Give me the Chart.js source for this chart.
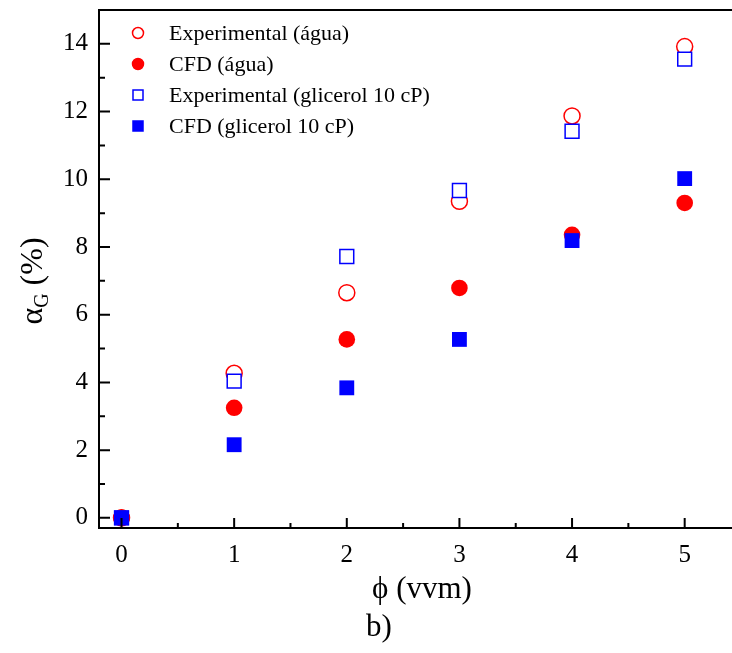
<!DOCTYPE html>
<html>
<head>
<meta charset="utf-8">
<script src="https://cdn.jsdelivr.net/npm/chart.js@4.4.0/dist/chart.umd.min.js"></script>
<style>
  html, body { margin: 0; padding: 0; background: #fff; overflow: hidden; }
  canvas { display: block; }
</style>
</head>
<body>
<canvas id="grafico" width="760" height="653"></canvas>
<script>
// =============================
// DADOS
// =============================
const vazoes = [0, 1, 2, 3, 4, 5];
const expAgua = [0, 4.27, 6.65, 9.35, 11.87, 13.92];
const cfdAgua = [0, 3.25, 5.27, 6.79, 8.36, 9.3];
const expGlicerol = [0, 4.04, 7.72, 9.67, 11.42, 13.55];
const cfdGlicerol = [0, 2.16, 3.84, 5.27, 8.19, 10.02];

const ticksX = [0, 1, 2, 3, 4, 5];
const ticksY = [0, 2, 4, 6, 8, 10, 12, 14];
const minorX = [0.5, 1.5, 2.5, 3.5, 4.5];
const minorY = [1, 3, 5, 7, 9, 11, 13];

const nomes = ["Experimental (água)", "CFD (água)", "Experimental (glicerol 10 cP)", "CFD (glicerol 10 cP)"];

const FONTE = "'Liberation Serif', 'Times New Roman', serif";
const VERMELHO = "#ff0000";
const AZUL = "#0000ff";

function pontos(ys) {
    return vazoes.map((x, i) => ({ x: x, y: ys[i] }));
}

// =============================
// PLUGIN: eixos, ticks para dentro, titulos e legenda
// =============================
const pluginEixos = {
    id: "eixos",
    afterDraw(chart) {
        const ctx = chart.ctx;
        const area = chart.chartArea;
        const sx = chart.scales.x;
        const sy = chart.scales.y;

        ctx.save();
        ctx.strokeStyle = "#000";
        ctx.lineWidth = 2;
        ctx.lineCap = "butt";

        // linhas do quadro
        ctx.beginPath();
        ctx.moveTo(area.left, area.top);
        ctx.lineTo(area.left, area.bottom);
        ctx.moveTo(area.left - 1, area.bottom);
        ctx.lineTo(area.right, area.bottom);
        ctx.moveTo(area.left - 1, area.top);
        ctx.lineTo(area.right, area.top);
        ctx.stroke();

        // ticks do eixo y
        ctx.beginPath();
        ticksY.forEach(v => {
            const y = sy.getPixelForValue(v);
            ctx.moveTo(area.left, y);
            ctx.lineTo(area.left + 11, y);
        });
        minorY.forEach(v => {
            const y = sy.getPixelForValue(v);
            ctx.moveTo(area.left, y);
            ctx.lineTo(area.left + 6, y);
        });
        // ticks do eixo x
        ticksX.forEach(v => {
            const x = sx.getPixelForValue(v);
            ctx.moveTo(x, area.bottom);
            ctx.lineTo(x, area.bottom - 10);
        });
        minorX.forEach(v => {
            const x = sx.getPixelForValue(v);
            ctx.moveTo(x, area.bottom);
            ctx.lineTo(x, area.bottom - 5);
        });
        ctx.stroke();

        // titulo x
        ctx.fillStyle = "#000";
        ctx.textAlign = "center";
        ctx.textBaseline = "middle";
        ctx.font = "31px " + FONTE;
        const cx = (area.left + area.right) / 2;
        ctx.fillText("\u03D5 (vvm)", cx + 2, 590);
        ctx.fillText("b)", 379, 628);

        // titulo y (alfa com subscrito G)
        ctx.save();
        ctx.translate(34, 281);
        ctx.rotate(-Math.PI / 2);
        ctx.textAlign = "left";
        ctx.textBaseline = "middle";
        ctx.font = "32px " + FONTE;
        const wAlfa = ctx.measureText("\u03B1").width;
        ctx.font = "20px " + FONTE;
        const wG = ctx.measureText("G").width;
        ctx.font = "32px " + FONTE;
        const wResto = ctx.measureText(" (%)").width;
        let x0 = -(wAlfa + wG + wResto) / 2;
        ctx.fillText("\u03B1", x0, 0);
        ctx.font = "20px " + FONTE;
        ctx.fillText("G", x0 + wAlfa, 9);
        ctx.font = "32px " + FONTE;
        ctx.fillText(" (%)", x0 + wAlfa + wG, 0);
        ctx.restore();

        // legenda
        ctx.font = "22px " + FONTE;
        ctx.textAlign = "left";
        ctx.textBaseline = "middle";
        chart.data.datasets.forEach((ds, i) => {
            const y = area.top + 23 + i * 31;
            const mx = area.left + 39;
            ctx.lineWidth = 1.5;
            ctx.strokeStyle = ds.borderColor;
            ctx.fillStyle = ds.pointBackgroundColor;
            ctx.beginPath();
            if (ds.pointStyle === "circle") {
                ctx.arc(mx, y, 5.5, 0, Math.PI * 2);
            } else {
                ctx.rect(mx - 5, y - 5, 10, 10);
            }
            ctx.fill();
            ctx.stroke();
            ctx.fillStyle = "#000";
            ctx.fillText(ds.label, area.left + 70, y + 1);
        });
        ctx.restore();
    }
};

// sem folga automatica das escalas
function semFolga(s) {
    s.paddingTop = 0;
    s.paddingBottom = 0;
    s.paddingLeft = 0;
    s.paddingRight = 0;
}

// =============================
// GRAFICO
// =============================
const ctx = document.getElementById("grafico").getContext("2d");

new Chart(ctx, {
    type: "scatter",
    data: {
        datasets: [
            {
                label: nomes[0],
                data: pontos(expAgua),
                pointStyle: "circle",
                pointRadius: 8,
                borderColor: VERMELHO,
                backgroundColor: "#ffffff",
                pointBackgroundColor: "#ffffff",
                pointBorderColor: VERMELHO,
                pointBorderWidth: 1.5,
                order: 4
            },
            {
                label: nomes[1],
                data: pontos(cfdAgua),
                pointStyle: "circle",
                pointRadius: 8.3,
                borderColor: VERMELHO,
                backgroundColor: VERMELHO,
                pointBackgroundColor: VERMELHO,
                pointBorderColor: VERMELHO,
                pointBorderWidth: 0,
                order: 3
            },
            {
                label: nomes[2],
                data: pontos(expGlicerol),
                pointStyle: "rect",
                pointRadius: 9.8,
                borderColor: AZUL,
                backgroundColor: "#ffffff",
                pointBackgroundColor: "#ffffff",
                pointBorderColor: AZUL,
                pointBorderWidth: 1.5,
                order: 2
            },
            {
                label: nomes[3],
                data: pontos(cfdGlicerol),
                pointStyle: "rect",
                pointRadius: 10.5,
                borderColor: AZUL,
                backgroundColor: AZUL,
                pointBackgroundColor: AZUL,
                pointBorderColor: AZUL,
                pointBorderWidth: 0,
                order: 1
            }
        ]
    },
    options: {
        responsive: false,
        animation: false,
        layout: {
            autoPadding: false,
            padding: { left: 0, top: 10, right: 19, bottom: 0 }
        },
        plugins: {
            legend: { display: false },
            tooltip: { enabled: false }
        },
        scales: {
            x: {
                type: "linear",
                min: -0.2,
                max: 5.5,
                afterBuildTicks: s => { s.ticks = ticksX.map(v => ({ value: v })); },
                afterFit: s => { s.height = 125; semFolga(s); },
                grid: { display: false, drawTicks: false },
                border: { display: false },
                ticks: {
                    color: "#000",
                    padding: 12,
                    maxRotation: 0,
                    font: { family: FONTE, size: 25 }
                }
            },
            y: {
                type: "linear",
                min: -0.3,
                max: 15,
                afterBuildTicks: s => { s.ticks = ticksY.map(v => ({ value: v })); },
                afterFit: s => { s.width = 99; semFolga(s); },
                grid: { display: false, drawTicks: false },
                border: { display: false },
                ticks: {
                    color: "#000",
                    padding: 11,
                    font: { family: FONTE, size: 25 }
                }
            }
        }
    },
    plugins: [pluginEixos]
});
</script>
</body>
</html>
